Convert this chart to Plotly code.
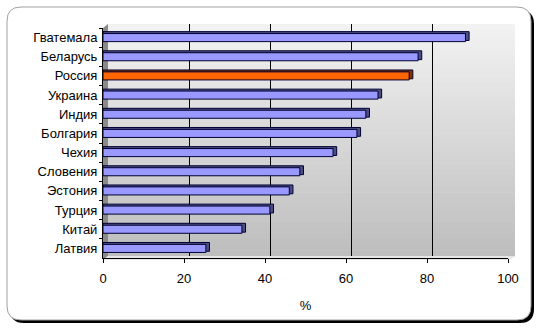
import plotly.graph_objects as go

countries = ["Гватемала", "Беларусь", "Россия", "Украина", "Индия", "Болгария",
             "Чехия", "Словения", "Эстония", "Турция", "Китай", "Латвия"]
values = [89.5, 77.8, 75.6, 67.9, 64.9, 62.7, 56.8, 48.6, 46.0, 41.2, 34.3, 25.4]
highlight = "Россия"
x_ticks = [0, 20, 40, 60, 80, 100]
axis_title = "%"

W, H = 539, 329
L, R, T, B = 103, 31, 28, 71
PW, PH = W - L - R, H - T - B


def px(x):
    return (x - L) / PW


def py(y):
    return 1 - (y - T) / PH


colors = ["#ff6600" if c == highlight else "#9999ff" for c in countries]
depth_colors = ["#803300" if c == highlight else "#4d4d80" for c in countries]

fig = go.Figure()
# 3D depth of bars
fig.add_trace(go.Bar(
    y=countries, x=[v + 0.9 for v in values], orientation="h",
    marker=dict(color=depth_colors, line=dict(color="#000033", width=1)),
    width=0.46, offset=-0.31, hoverinfo="skip", showlegend=False))
fig.add_trace(go.Bar(
    y=countries, x=values, orientation="h",
    marker=dict(color=colors, line=dict(color="#000033", width=1)),
    width=0.42, offset=-0.21, showlegend=False))

shapes = []


def rrect(x0, y0, x1, y1, r):
    return (f"M {px(x0 + r)},{py(y0)} L {px(x1 - r)},{py(y0)} Q {px(x1)},{py(y0)} {px(x1)},{py(y0 + r)} "
            f"L {px(x1)},{py(y1 - r)} Q {px(x1)},{py(y1)} {px(x1 - r)},{py(y1)} "
            f"L {px(x0 + r)},{py(y1)} Q {px(x0)},{py(y1)} {px(x0)},{py(y1 - r)} "
            f"L {px(x0)},{py(y0 + r)} Q {px(x0)},{py(y0)} {px(x0 + r)},{py(y0)} Z")


# outer rounded frame with shadow
shapes.append(dict(type="path", xref="paper", yref="paper", path=rrect(10, 10, 534, 323, 14),
                   fillcolor="#000000", line=dict(width=0), layer="below"))
shapes.append(dict(type="path", xref="paper", yref="paper", path=rrect(7, 7, 531, 320, 14),
                   fillcolor="#ffffff", line=dict(color="#a0a0a0", width=1), layer="below"))

# back wall gradient
top, bot = 24, 256
n = 40
c0, c1 = (242, 242, 242), (190, 190, 190)
for i in range(n):
    f = i / (n - 1)
    col = tuple(int(c0[k] + (c1[k] - c0[k]) * f) for k in range(3))
    y0 = top + (bot - top) * i / n
    y1 = top + (bot - top) * (i + 1) / n + 0.5
    shapes.append(dict(type="rect", xref="paper", yref="paper",
                       x0=px(108), x1=px(515), y0=py(y0), y1=py(y1),
                       fillcolor="rgb(%d,%d,%d)" % col, line=dict(width=0), layer="below"))
# left wall
shapes.append(dict(type="path", xref="paper", yref="paper",
                   path=f"M {px(103)},{py(28)} L {px(108)},{py(24)} L {px(108)},{py(256)} L {px(103)},{py(260)} Z",
                   fillcolor="#8a8a8a", line=dict(width=0), layer="below"))
# floor
shapes.append(dict(type="path", xref="paper", yref="paper",
                   path=f"M {px(103)},{py(260)} L {px(108)},{py(256)} L {px(515)},{py(256)} L {px(510)},{py(260)} Z",
                   fillcolor="#e6e6e6", line=dict(width=0), layer="below"))
# back-wall gridlines (shifted for depth)
shift = 5.5 / (PW / 100)
for v in x_ticks[1:-1]:
    shapes.append(dict(type="line", xref="x", yref="paper", x0=v + shift, x1=v + shift,
                       y0=py(256), y1=py(24), line=dict(color="#000000", width=1), layer="below"))

fig.update_layout(
    width=W, height=H, margin=dict(l=L, r=R, t=T, b=B, autoexpand=False),
    paper_bgcolor="rgba(0,0,0,0)", plot_bgcolor="rgba(0,0,0,0)",
    barmode="overlay", shapes=shapes,
    font=dict(family="Liberation Sans, Arial, sans-serif", size=13, color="#000000"),
    xaxis=dict(range=[0, 100], tickvals=x_ticks, showgrid=False, zeroline=False,
               showline=True, linecolor="#000000", linewidth=1,
               ticks="outside", ticklen=4, tickcolor="#000000", ticklabelstandoff=4,
               title=dict(text=axis_title, standoff=16, font=dict(size=13)), fixedrange=True),
    yaxis=dict(categoryorder="array", categoryarray=countries, autorange="reversed",
               showgrid=False, zeroline=False, showline=True, linecolor="#000000",
               ticks="outside", ticklen=3, tickson="boundaries", tickcolor="#000000",
               ticklabelstandoff=2, fixedrange=True),
)

fig.write_html("out.html", config={"displayModeBar": False},
               post_script="document.body.style.margin='0';document.body.style.overflow='hidden';")
